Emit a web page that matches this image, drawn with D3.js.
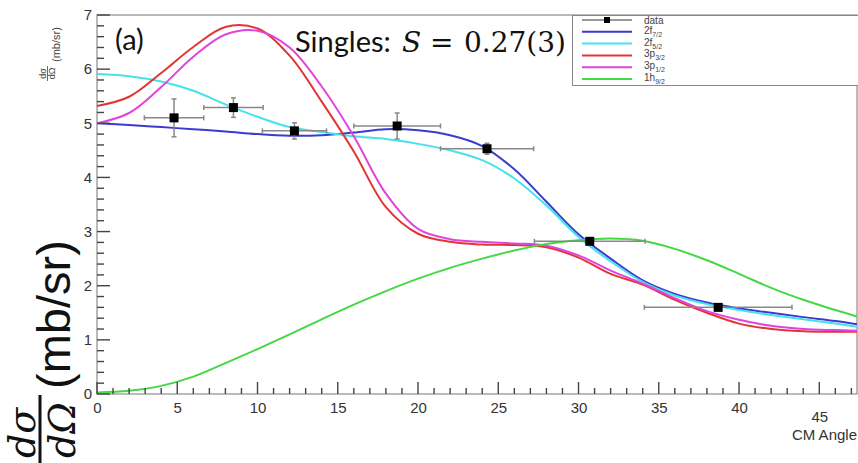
<!DOCTYPE html>
<html lang="en">
<head>
<meta charset="utf-8">
<title>Singles: S = 0.27(3)</title>
<script src="https://cdn.jsdelivr.net/npm/d3@7"></script>
<style>
	body { margin: 0; background: #fff; }
	.axis path.domain { display: none; }
	.axis text { font-family: "Liberation Sans", Arial, sans-serif; font-size: 15px; fill: #333; }
</style>
</head>
<body>
<script>
var angles = [0, 2, 4, 6, 8, 10, 12, 14, 16, 18, 20, 22, 24, 26, 28, 30, 32, 34, 36, 38, 40, 42, 44, 46, 47.35];

// calculated cross sections, mb/sr
var curve2f72 = [5.00, 4.97, 4.93, 4.89, 4.85, 4.80, 4.77, 4.78, 4.83, 4.89, 4.87, 4.78, 4.58, 4.15, 3.55, 2.95, 2.50, 2.10, 1.85, 1.69, 1.58, 1.50, 1.42, 1.35, 1.29];
var curve2f52 = [5.91, 5.87, 5.77, 5.60, 5.35, 5.12, 4.93, 4.84, 4.76, 4.71, 4.62, 4.50, 4.32, 3.98, 3.48, 2.90, 2.45, 2.07, 1.82, 1.66, 1.55, 1.46, 1.38, 1.30, 1.24];
var curve3p32 = [5.32, 5.49, 5.93, 6.41, 6.78, 6.75, 6.25, 5.40, 4.48, 3.45, 2.96, 2.81, 2.76, 2.75, 2.71, 2.52, 2.22, 2.02, 1.74, 1.50, 1.30, 1.20, 1.16, 1.15, 1.15];
var curve3p12 = [5.00, 5.19, 5.67, 6.23, 6.64, 6.71, 6.40, 5.68, 4.76, 3.70, 3.05, 2.86, 2.81, 2.78, 2.74, 2.56, 2.28, 2.04, 1.77, 1.53, 1.37, 1.26, 1.20, 1.18, 1.17];
var curve1h92 = [0.03, 0.06, 0.15, 0.32, 0.57, 0.83, 1.10, 1.38, 1.65, 1.90, 2.13, 2.33, 2.50, 2.65, 2.77, 2.84, 2.87, 2.83, 2.68, 2.47, 2.22, 1.96, 1.74, 1.55, 1.43];

// measured points
var dataAngle = [4.8, 8.5, 12.3, 18.7, 24.3, 30.7, 38.7];
var dataAngleErr = [1.85, 1.85, 2.0, 2.7, 2.9, 3.45, 4.6];
var dataValue = [5.10, 5.29, 4.86, 4.95, 4.53, 2.82, 1.60];
var dataValueErr = [0.35, 0.18, 0.15, 0.24, 0.10, 0.04, 0.04];

var xTicks = [0, 5, 10, 15, 20, 25, 30, 35, 40, 45];
var yTicks = [0, 1, 2, 3, 4, 5, 6, 7];

var curveNames = [["2f", "7/2"], ["2f", "5/2"], ["3p", "3/2"], ["3p", "1/2"], ["1h", "9/2"]];
var curveValues = [curve2f72, curve2f52, curve3p32, curve3p12, curve1h92];
var curveColors = ["#3b3bd0", "#45e2ea", "#e23434", "#e044dc", "#44d844"];

var w = 858;
var h = 463;

var svg = d3.select("body")
	.append("svg")
	.attr("width", w)
	.attr("height", h);

var xScale = d3.scaleLinear().domain([0, 47.35]).range([97, 857]);
var yScale = d3.scaleLinear().domain([0, 7]).range([394, 15]);

var defs = svg.append("defs");
defs.append("clipPath")
	.attr("id", "frameClip")
	.append("rect")
	.attr("x", 97).attr("y", 15)
	.attr("width", 760).attr("height", 379);

// frame
svg.append("rect")
	.attr("x", 97).attr("y", 15)
	.attr("width", 760).attr("height", 379)
	.style("fill", "none")
	.style("stroke", "#777");

// tick labels from d3 axes
var xAxisG = svg.append("g")
	.attr("class", "axis")
	.attr("transform", "translate(0,394)")
	.call(d3.axisBottom(xScale).tickValues(xTicks).tickSize(0).tickPadding(8).tickFormat(d3.format("d")));
// root pushes the last label down under the axis title
xAxisG.selectAll(".tick text")
	.filter(function(d) { return d == 45; })
	.attr("dy", "1.35em");

svg.append("g")
	.attr("class", "axis")
	.attr("transform", "translate(97,0)")
	.call(d3.axisLeft(yScale).tickValues(yTicks).tickSize(0).tickPadding(5).tickFormat(d3.format("d")));

// curves
var line = d3.line()
	.x(function(d, i) { return xScale(angles[i]); })
	.y(function(d) { return yScale(d); })
	.curve(d3.curveCatmullRom.alpha(0.5));

var curveG = svg.append("g").attr("clip-path", "url(#frameClip)");
curveValues.forEach(function(vals, k) {
	curveG.append("path")
		.attr("d", line(vals))
		.attr("fill", "none")
		.attr("stroke", curveColors[k])
		.attr("stroke-width", 2);
});

// data points with error bars
var pts = svg.append("g");
dataAngle.forEach(function(a, i) {
	var cx = xScale(a);
	var cy = yScale(dataValue[i]);
	var x0 = xScale(a - dataAngleErr[i]);
	var x1 = xScale(a + dataAngleErr[i]);
	var y0 = yScale(dataValue[i] - dataValueErr[i]);
	var y1 = yScale(dataValue[i] + dataValueErr[i]);
	var g = pts.append("g").attr("stroke", "#888").attr("stroke-width", 1.5);
	g.append("line").attr("x1", x0).attr("x2", x1).attr("y1", cy).attr("y2", cy);
	g.append("line").attr("x1", x0).attr("x2", x0).attr("y1", cy - 2.5).attr("y2", cy + 2.5);
	g.append("line").attr("x1", x1).attr("x2", x1).attr("y1", cy - 2.5).attr("y2", cy + 2.5);
	g.append("line").attr("x1", cx).attr("x2", cx).attr("y1", y0).attr("y2", y1);
	g.append("line").attr("x1", cx - 2.5).attr("x2", cx + 2.5).attr("y1", y0).attr("y2", y0);
	g.append("line").attr("x1", cx - 2.5).attr("x2", cx + 2.5).attr("y1", y1).attr("y2", y1);
	pts.append("rect")
		.attr("x", cx - 4.5).attr("y", cy - 4.5)
		.attr("width", 9).attr("height", 9)
		.attr("fill", "#000");
});

// root style ticks pointing into the frame, drawn on top of everything in the frame
var xMinor = d3.range(0, 48, 1);
var yMinor = d3.range(0, 36, 1).map(function(k) { return k / 5; });

var tickG = svg.append("g").attr("stroke", "#444").attr("stroke-width", 1.4);
tickG.selectAll("line.xt")
	.data(xMinor)
	.enter()
	.append("line")
	.attr("class", "xt")
	.attr("x1", function(d) { return xScale(d); })
	.attr("x2", function(d) { return xScale(d); })
	.attr("y1", 394)
	.attr("y2", function(d) { return d % 5 == 0 ? 382 : 388; });
tickG.selectAll("line.yt")
	.data(yMinor)
	.enter()
	.append("line")
	.attr("class", "yt")
	.attr("x1", 97)
	.attr("x2", function(d, i) { return i % 5 == 0 ? 110 : 104; })
	.attr("y1", function(d) { return yScale(d); })
	.attr("y2", function(d) { return yScale(d); });

// legend
var leg = svg.append("g");
leg.append("rect")
	.attr("x", 572.5).attr("y", 15.5)
	.attr("width", 300).attr("height", 70)
	.attr("fill", "#fff")
	.attr("stroke", "#888");

var rowY = function(i) { return 20 + i * 11.8; };

leg.append("line")
	.attr("x1", 582).attr("x2", 632).attr("y1", rowY(0)).attr("y2", rowY(0))
	.attr("stroke", "#333").attr("stroke-width", 1);
leg.append("rect")
	.attr("x", 604).attr("y", rowY(0) - 3).attr("width", 6).attr("height", 6)
	.attr("fill", "#000");
leg.append("text")
	.attr("x", 644).attr("y", rowY(0)).attr("dy", "0.35em")
	.attr("font-family", "Liberation Sans, Arial, sans-serif")
	.attr("font-size", 10).attr("fill", "#444")
	.text("data");

curveNames.forEach(function(n, k) {
	var yy = rowY(k + 1);
	leg.append("line")
		.attr("x1", 582).attr("x2", 632).attr("y1", yy).attr("y2", yy)
		.attr("stroke", curveColors[k]).attr("stroke-width", 2);
	var t = leg.append("text")
		.attr("x", 644).attr("y", yy).attr("dy", "0.2em")
		.attr("font-family", "Liberation Sans, Arial, sans-serif")
		.attr("font-size", 10).attr("fill", "#444");
	t.append("tspan").text(n[0]);
	t.append("tspan").attr("font-size", 7).attr("dy", 3).text(n[1]);
});

// panel label and title
svg.append("text")
	.attr("x", 115).attr("y", 50)
	.attr("font-family", "Lato, 'Open Sans', sans-serif")
	.attr("font-size", 29).attr("fill", "#111")
	.text("(a)");

svg.append("text")
	.attr("x", 295).attr("y", 52)
	.attr("font-family", "Lato, 'Open Sans', sans-serif")
	.attr("font-size", 29).attr("fill", "#111")
	.text("Singles:");
var mathT = svg.append("text")
	.attr("y", 52)
	.attr("font-family", "'DejaVu Serif', serif")
	.attr("font-size", 28).attr("fill", "#111");
mathT.append("tspan").attr("x", 402).attr("font-style", "italic").text("S");
mathT.append("tspan").attr("x", 430).text("=");
mathT.append("tspan").attr("x", 464).text("0.27(3)");

// x title
svg.append("text")
	.attr("x", 857).attr("y", 440)
	.attr("text-anchor", "end")
	.attr("font-family", "Liberation Sans, Arial, sans-serif")
	.attr("font-size", 15).attr("fill", "#333")
	.text("CM Angle");

// small root y title
var yt = svg.append("g").attr("transform", "rotate(-90)");
yt.append("text")
	.attr("x", -62).attr("y", 60)
	.attr("font-family", "Liberation Sans, Arial, sans-serif")
	.attr("font-size", 11).attr("fill", "#444")
	.text("(mb/sr)");
yt.append("text")
	.attr("x", -73.5).attr("y", 46).attr("text-anchor", "middle")
	.attr("font-family", "Liberation Sans, Arial, sans-serif")
	.attr("font-size", 9).attr("fill", "#444")
	.text("dσ");
yt.append("line")
	.attr("x1", -81).attr("x2", -66).attr("y1", 47.5).attr("y2", 47.5)
	.attr("stroke", "#444").attr("stroke-width", 0.8);
yt.append("text")
	.attr("x", -73.5).attr("y", 55).attr("text-anchor", "middle")
	.attr("font-family", "Liberation Sans, Arial, sans-serif")
	.attr("font-size", 9).attr("fill", "#444")
	.text("dΩ");

// big pasted y title
var big = svg.append("g").attr("transform", "rotate(-90)");
big.append("text")
	.attr("x", -389).attr("y", 70)
	.attr("font-family", "Liberation Sans, Arial, sans-serif")
	.attr("font-size", 47).attr("fill", "#111")
	.text("(mb/sr)");
big.append("text")
	.attr("x", -458).attr("y", 35)
	.attr("font-family", "'DejaVu Serif', serif")
	.attr("font-style", "italic")
	.attr("font-size", 38).attr("fill", "#111")
	.text("dσ");
big.append("line")
	.attr("x1", -463).attr("x2", -395).attr("y1", 40).attr("y2", 40)
	.attr("stroke", "#111").attr("stroke-width", 3);
big.append("text")
	.attr("x", -458).attr("y", 75)
	.attr("font-family", "'DejaVu Serif', serif")
	.attr("font-style", "italic")
	.attr("font-size", 38).attr("fill", "#111")
	.text("dΩ");
</script>
</body>
</html>
